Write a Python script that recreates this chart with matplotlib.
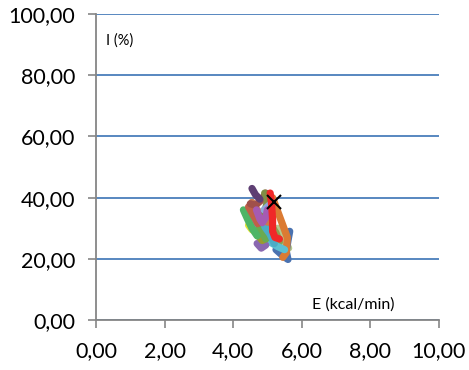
import matplotlib
matplotlib.use("Agg")
import matplotlib.pyplot as plt

# Series (E in kcal/min, I in %)
s_dark_purple_x = [4.55, 4.65, 4.78]
s_dark_purple_y = [43.0, 41.0, 39.5]
s_olive_x = [4.92, 5.0, 4.95, 4.9]
s_olive_y = [41.5, 39.0, 36.5, 35.0]
s_brown_x = [4.5, 4.65, 4.85, 4.95, 5.05]
s_brown_y = [38.0, 37.5, 39.5, 41.5, 40.5]
s_brownred_x = [4.45, 4.55, 4.65, 4.72]
s_brownred_y = [37.0, 35.0, 33.0, 31.5]
s_green_x = [4.3, 4.42, 4.55, 4.7]
s_green_y = [36.0, 33.0, 30.0, 27.5]
s_grayblue_x = [4.4, 4.5, 4.6]
s_grayblue_y = [34.0, 32.5, 31.5]
s_yellow_x = [4.45, 4.55]
s_yellow_y = [31.0, 29.5]
s_orange_x = [5.15, 5.3, 5.45, 5.58, 5.55, 5.45]
s_orange_y = [40.0, 35.5, 31.0, 27.0, 22.0, 20.5]
s_blue_x = [5.65, 5.6, 5.55, 5.6, 5.45, 5.25]
s_blue_y = [29.0, 26.0, 22.5, 19.8, 21.0, 23.0]
s_sage_x = [5.3, 5.45, 5.62, 5.45]
s_sage_y = [30.0, 27.0, 23.5, 24.5]
s_cyan_x = [4.6, 4.75, 5.0, 5.3, 5.5]
s_cyan_y = [31.0, 29.0, 26.0, 24.0, 23.0]
s_teal_x = [4.92, 5.08, 5.2]
s_teal_y = [30.5, 28.0, 25.0]
s_olive2_x = [4.7, 4.85, 5.0, 5.1]
s_olive2_y = [28.0, 26.0, 27.0, 28.5]
s_green2_x = [4.75, 4.85, 4.95, 5.05]
s_green2_y = [30.5, 28.5, 26.5, 27.5]
s_purple_x = [4.7, 4.82, 4.95]
s_purple_y = [25.0, 23.5, 24.5]
s_rust_x = [4.55, 4.7, 4.85, 5.0]
s_rust_y = [38.5, 36.0, 34.0, 32.0]
s_moss_x = [4.95, 5.1, 5.25, 5.35]
s_moss_y = [34.0, 31.0, 28.5, 25.5]
s_magenta_x = [4.68, 4.78, 4.85, 4.95, 5.0]
s_magenta_y = [36.0, 33.0, 31.8, 33.5, 36.0]
s_lightblue_x = [4.9, 5.05, 5.15]
s_lightblue_y = [36.0, 37.5, 38.5]
s_red_x = [5.08, 5.12, 5.15, 5.15, 5.22, 5.35]
s_red_y = [41.5, 38.0, 33.0, 29.0, 27.0, 26.5]
mark_x = [5.2]
mark_y = [38.5]

series = [
    (s_sage_x, s_sage_y, "#B5C98E"),
    (s_blue_x, s_blue_y, "#4A72B0"),
    (s_orange_x, s_orange_y, "#DB7B33"),
    (s_moss_x, s_moss_y, "#8CA050"),
    (s_cyan_x, s_cyan_y, "#5BC0D2"),
    (s_purple_x, s_purple_y, "#8A68B0"),
    (s_olive2_x, s_olive2_y, "#9A9A30"),
    (s_green2_x, s_green2_y, "#6AAA50"),
    (s_teal_x, s_teal_y, "#4BACC6"),
    (s_yellow_x, s_yellow_y, "#E3E336"),
    (s_grayblue_x, s_grayblue_y, "#7A98C8"),
    (s_green_x, s_green_y, "#4EB566"),
    (s_rust_x, s_rust_y, "#C87A50"),
    (s_brownred_x, s_brownred_y, "#C06048"),
    (s_brown_x, s_brown_y, "#A0504A"),
    (s_olive_x, s_olive_y, "#7F8F45"),
    (s_dark_purple_x, s_dark_purple_y, "#5E3F73"),
    (s_lightblue_x, s_lightblue_y, "#8CA8D8"),
    (s_magenta_x, s_magenta_y, "#A55BB3"),
    (s_red_x, s_red_y, "#F02828"),
]

plt.rcParams['font.family'] = ['Lato', 'DejaVu Sans']

fig = plt.figure(figsize=(4.69, 3.70), dpi=100)
ax = fig.add_axes([0.2047, 0.135, 0.731, 0.827])

for xs, ys, c in series:
    ax.plot(xs, ys, color=c, lw=5.2, solid_capstyle="round",
            solid_joinstyle="round", zorder=3)
ax.plot(mark_x, mark_y, marker="x", color="black", ms=10, mew=1.5,
        ls="none", zorder=5)

ax.set_xlim(0, 10)
ax.set_ylim(0, 100)
ax.set_xticks([0, 2, 4, 6, 8, 10])
ax.set_yticks([0, 20, 40, 60, 80, 100])
ax.set_xticklabels(["0,00", "2,00", "4,00", "6,00", "8,00", "10,00"])
ax.set_yticklabels(["0,00", "20,00", "40,00", "60,00", "80,00", "100,00"])
ax.tick_params(axis="both", direction="out", length=6, width=1.2,
               color="#868686", labelsize=15.5)
ax.tick_params(axis="y", pad=9)
ax.tick_params(axis="x", pad=9)

ax.yaxis.grid(True, color="#4A7EBB", lw=1.3)
ax.set_axisbelow(True)
for s in ["top", "right"]:
    ax.spines[s].set_visible(False)
for s in ["left", "bottom"]:
    ax.spines[s].set_color("#868686")
    ax.spines[s].set_linewidth(1.3)

ax.text(0.3, 91.5, "I (%)", fontsize=10.5, va="center", ha="left")
ax.text(6.3, 5.0, "E (kcal/min)", fontsize=11.5, va="center", ha="left")

fig.savefig("out.png", dpi=100)
